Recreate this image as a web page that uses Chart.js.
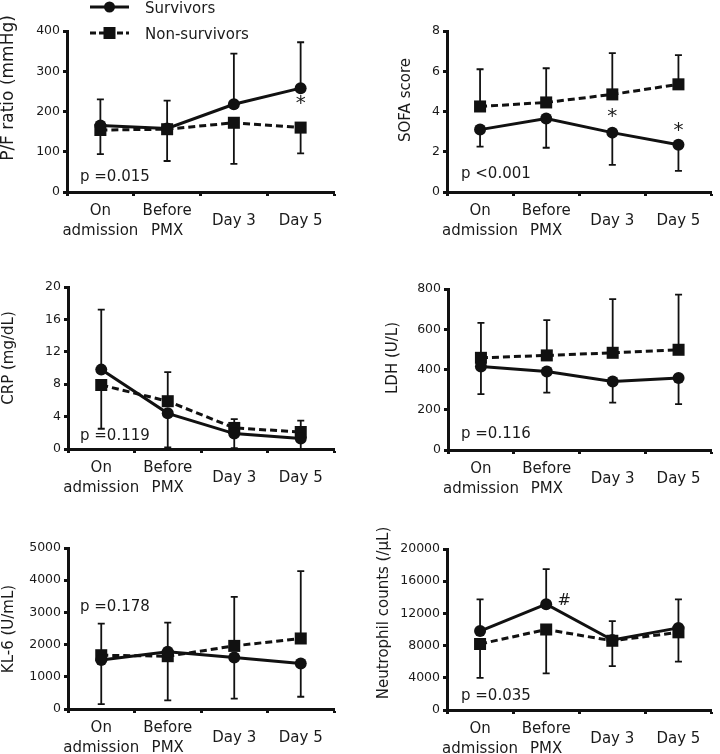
<!DOCTYPE html>
<html>
<head>
<meta charset="utf-8">
<script src="https://cdn.jsdelivr.net/npm/chart.js@4.4.1/dist/chart.umd.min.js"></script>
<style>
  html, body { margin: 0; padding: 0; background: #fff; }
  #wrap { position: relative; width: 720px; height: 754px; }
  #wrap canvas { position: absolute; }
</style>
</head>
<body>
<div id="wrap">
  <canvas id="chart-pf"   width="360" height="250" style="left:0;top:0"></canvas>
  <canvas id="chart-sofa" width="360" height="250" style="left:360px;top:0"></canvas>
  <canvas id="chart-crp"  width="360" height="250" style="left:0;top:250px"></canvas>
  <canvas id="chart-ldh"  width="360" height="250" style="left:360px;top:250px"></canvas>
  <canvas id="chart-kl6"  width="360" height="254" style="left:0;top:500px"></canvas>
  <canvas id="chart-neu"  width="360" height="254" style="left:360px;top:500px"></canvas>
</div>
<script>
'use strict';

// ─── Data ─────────────────────────────────────────────────────
const categories  = [['On', 'admission'], ['Before', 'PMX'], 'Day 3', 'Day 5'];
const seriesNames = ['Survivors', 'Non-survivors'];

// value + end point of the one-sided SD bar
const pfSurv      = [165, 158, 218, 258];
const pfSurvEnd   = [230, 227, 344, 372];
const pfNon       = [154, 156, 172, 160];
const pfNonEnd    = [94, 77, 70, 96];
const pfMarks     = [{ at: 3, value: 231, text: '*' }];

const sofaSurv    = [3.1, 3.65, 2.95, 2.35];
const sofaSurvEnd = [2.25, 2.2, 1.35, 1.05];
const sofaNon     = [4.25, 4.45, 4.85, 5.35];
const sofaNonEnd  = [6.1, 6.15, 6.9, 6.8];
const sofaMarks   = [{ at: 2, value: 3.93, text: '*' }, { at: 3, value: 3.23, text: '*' }];

const crpSurv     = [9.8, 4.4, 1.9, 1.3];
const crpSurvEnd  = [17.2, 0.2, 0.1, 0];
const crpNon      = [7.9, 5.9, 2.6, 2.1];
const crpNonEnd   = [2.5, 9.5, 3.7, 3.5];

const ldhSurv     = [415, 390, 340, 358];
const ldhSurvEnd  = [278, 285, 235, 228];
const ldhNon      = [458, 470, 483, 498];
const ldhNonEnd   = [632, 645, 750, 772];

const kl6Surv     = [1520, 1780, 1600, 1410];
const kl6SurvEnd  = [150, 2680, 320, 380];
const kl6Non      = [1670, 1640, 1960, 2190];
const kl6NonEnd   = [2650, 270, 3480, 4280];

const neuSurv     = [9800, 13150, 8700, 10200];
const neuSurvEnd  = [13750, 17500, 11050, 13750];
const neuNon      = [8200, 10000, 8600, 9650];
const neuNonEnd   = [4000, 4550, 5450, 6000];
const neuMarks    = [{ at: 1, value: 13790, text: '#', dx: 18 }];

const INK  = '#111';
const FONT = '"DejaVu Sans", Verdana, sans-serif';

// ─── helpers ──────────────────────────────────────────────────
function textMid(ctx, text, x, y, align) {
  ctx.textAlign = align || 'center';
  ctx.textBaseline = 'alphabetic';
  const m = ctx.measureText(text);
  ctx.fillText(text, x, y + (m.actualBoundingBoxAscent - m.actualBoundingBoxDescent) / 2);
}

function drawMarker(ctx, style, x, y) {
  ctx.beginPath();
  if (style === 'circle') ctx.arc(x, y, 5.5, 0, Math.PI * 2);
  else ctx.rect(x - 6, y - 6, 12, 12);
  ctx.fill();
}

// ─── plugins ──────────────────────────────────────────────────
const errorBars = {
  id: 'errorBars',
  beforeDatasetsDraw(chart) {
    const { ctx, scales: { x, y } } = chart;
    ctx.save();
    ctx.strokeStyle = INK;
    ctx.lineWidth = 1.8;
    chart.data.datasets.forEach(ds => {
      (ds.errEnd || []).forEach((end, i) => {
        const px = x.getPixelForValue(i);
        const y0 = y.getPixelForValue(ds.data[i]);
        const y1 = y.getPixelForValue(end);
        ctx.beginPath();
        ctx.moveTo(px, y0);
        ctx.lineTo(px, y1);
        ctx.moveTo(px - 3.5, y1);
        ctx.lineTo(px + 3.5, y1);
        ctx.stroke();
      });
    });
    ctx.restore();
  },
};

const panelText = {
  id: 'panelText',
  afterDraw(chart, args, opts) {
    const { ctx, chartArea, scales: { x, y } } = chart;
    ctx.save();
    ctx.fillStyle = '#1a1a1a';

    // axis title
    ctx.save();
    ctx.translate(opts.titleX, opts.titleY);
    ctx.rotate(-Math.PI / 2);
    ctx.font = `${opts.titleSize || 15}px ${FONT}`;
    textMid(ctx, opts.title, 0, 0);
    ctx.restore();

    // p value
    ctx.font = `15px ${FONT}`;
    textMid(ctx, opts.p, chartArea.left + opts.pDx, chartArea.bottom - opts.pDy, 'left');

    // significance marks
    (opts.marks || []).forEach(m => {
      ctx.font = m.text === '*' ? `20px ${FONT}` : `16px ${FONT}`;
      textMid(ctx, m.text, x.getPixelForValue(m.at) + (m.dx || 0), y.getPixelForValue(m.value));
    });

    // legend (first panel only)
    if (opts.legend) {
      ctx.strokeStyle = INK;
      ctx.fillStyle = INK;
      ctx.lineWidth = 3;
      [[7, 'circle', []], [33, 'rect', [6, 3]]].forEach(([ly, style, dash], i) => {
        ctx.setLineDash(dash);
        ctx.beginPath();
        ctx.moveTo(90, ly);
        ctx.lineTo(129, ly);
        ctx.stroke();
        ctx.setLineDash([]);
        drawMarker(ctx, style, 109.5, ly);
        ctx.fillStyle = '#1a1a1a';
        ctx.font = `15px ${FONT}`;
        textMid(ctx, seriesNames[i], 145, ly, 'left');
        ctx.fillStyle = INK;
      });
    }
    ctx.restore();
  },
};

// ─── panel builder ────────────────────────────────────────────
function renderPanel(cfg) {
  return new Chart(document.getElementById(cfg.id).getContext('2d'), {
    type: 'line',
    data: {
      labels: categories,
      datasets: [
        {
          label: seriesNames[0],
          data: cfg.surv,
          errEnd: cfg.survEnd,
          borderColor: INK,
          backgroundColor: INK,
          borderWidth: 3,
          pointStyle: 'circle',
          pointRadius: 6,
          pointBorderWidth: 0,
          tension: 0,
          clip: false,
        },
        {
          label: seriesNames[1],
          data: cfg.non,
          errEnd: cfg.nonEnd,
          borderColor: INK,
          backgroundColor: INK,
          borderWidth: 3,
          borderDash: [7, 4],
          pointStyle: 'rect',
          pointRadius: 8.5,
          pointBorderWidth: 0,
          tension: 0,
          clip: false,
        },
      ],
    },
    options: {
      responsive: false,
      animation: false,
      devicePixelRatio: 1,
      layout: { padding: { top: cfg.top, right: cfg.right, left: 0, bottom: 0 } },
      plugins: {
        legend: { display: false },
        tooltip: { enabled: false },
        panelText: {
          title: cfg.title, titleX: cfg.titleX, titleY: cfg.titleY, titleSize: cfg.titleSize,
          p: cfg.p, pDx: cfg.pDx, pDy: cfg.pDy,
          marks: cfg.marks, legend: cfg.legend,
        },
      },
      scales: {
        x: {
          offset: true,
          afterFit: s => { s.height = cfg.xHeight; },
          grid: {
            offset: true, drawOnChartArea: false, drawTicks: true,
            tickLength: 4, tickWidth: 3, tickColor: INK,
          },
          border: { display: true, width: 3, color: INK },
          ticks: {
            color: '#1a1a1a', font: { family: FONT, size: 15, lineHeight: 1.33 },
            maxRotation: 0, autoSkip: false, padding: 15, crossAlign: 'center',
          },
        },
        y: {
          min: 0,
          max: cfg.max,
          afterFit: s => { s.width = cfg.left; },
          grid: {
            drawOnChartArea: false, drawTicks: true,
            tickLength: 4, tickWidth: 3, tickColor: INK,
          },
          border: { display: true, width: 3, color: INK },
          ticks: {
            stepSize: cfg.step, color: '#1a1a1a',
            font: { family: FONT, size: 12.5 }, padding: 3,
            callback: v => String(v),
          },
        },
      },
    },
    plugins: [errorBars, panelText],
  });
}

renderPanel({ id: 'chart-pf', surv: pfSurv, survEnd: pfSurvEnd, non: pfNon, nonEnd: pfNonEnd,
  max: 400, step: 100, left: 67, top: 31, right: 26, xHeight: 58,
  title: 'P/F ratio (mmHg)', titleX: 8, titleY: 88, titleSize: 17,
  p: 'p =0.015', pDx: 13, pDy: 16, marks: pfMarks, legend: true });

renderPanel({ id: 'chart-sofa', surv: sofaSurv, survEnd: sofaSurvEnd, non: sofaNon, nonEnd: sofaNonEnd,
  max: 8, step: 2, left: 87, top: 31, right: 3, xHeight: 58,
  title: 'SOFA score', titleX: 44, titleY: 100,
  p: 'p <0.001', pDx: 14, pDy: 19, marks: sofaMarks });

renderPanel({ id: 'chart-crp', surv: crpSurv, survEnd: crpSurvEnd, non: crpNon, nonEnd: crpNonEnd,
  max: 20, step: 4, left: 68, top: 37, right: 26, xHeight: 51,
  title: 'CRP (mg/dL)', titleX: 8, titleY: 108,
  p: 'p =0.119', pDx: 12, pDy: 14 });

renderPanel({ id: 'chart-ldh', surv: ldhSurv, survEnd: ldhSurvEnd, non: ldhNon, nonEnd: ldhNonEnd,
  max: 800, step: 200, left: 88, top: 39, right: 3, xHeight: 50,
  title: 'LDH (U/L)', titleX: 32, titleY: 108,
  p: 'p =0.116', pDx: 13, pDy: 17 });

renderPanel({ id: 'chart-kl6', surv: kl6Surv, survEnd: kl6SurvEnd, non: kl6Non, nonEnd: kl6NonEnd,
  max: 5000, step: 1000, left: 68, top: 48, right: 26, xHeight: 45,
  title: 'KL-6 (U/mL)', titleX: 8, titleY: 129,
  p: 'p =0.178', pDx: 12, pDy: 103 });

renderPanel({ id: 'chart-neu', surv: neuSurv, survEnd: neuSurvEnd, non: neuNon, nonEnd: neuNonEnd,
  max: 20000, step: 4000, left: 87, top: 49, right: 3, xHeight: 44,
  title: 'Neutrophil counts (/µL)', titleX: 23, titleY: 113,
  p: 'p =0.035', pDx: 14, pDy: 15, marks: neuMarks });
</script>
</body>
</html>
